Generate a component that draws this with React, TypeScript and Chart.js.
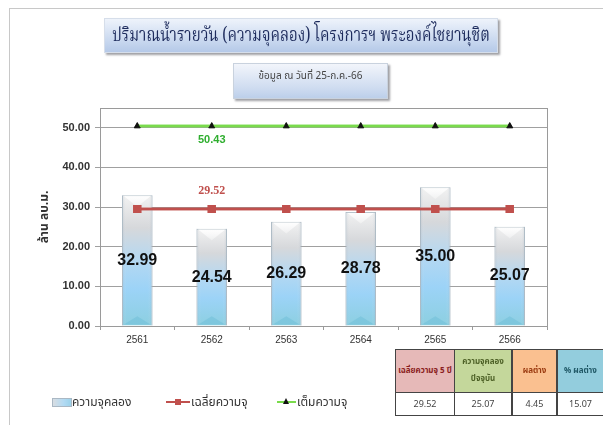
import React, { useEffect, useRef } from "react";
import { Chart, registerables } from "chart.js";

Chart.register(...registerables);

const categories = ["2561", "2562", "2563", "2564", "2565", "2566"];
const capacityValues = [32.99, 24.54, 26.29, 28.78, 35.0, 25.07];
const averageValues = [29.52, 29.52, 29.52, 29.52, 29.52, 29.52];
const fullValues = [50.43, 50.43, 50.43, 50.43, 50.43, 50.43];
const yTickValues = [0, 10, 20, 30, 40, 50];
const seriesNames = ["ความจุคลอง", "เฉลี่ยความจุ", "เต็มความจุ"];
const titleText = "ปริมาณน้ำรายวัน (ความจุคลอง) โครงการฯ พระองค์ไชยานุชิต";
const subtitleText = "ข้อมูล ณ วันที่  25-ก.ค.-66";
const yAxisTitle = "ล้าน ลบ.ม.";
const tableHeaders = ["เฉลี่ยความจุ 5 ปี", "ความจุคลอง\nปัจจุบัน", "ผลต่าง", "% ผลต่าง"];
const tableValues = ["29.52", "25.07", "4.45", "15.07"];

const THAI_SANS = "Tahoma, 'Noto Sans Thai', Loma, Garuda, 'Noto Sans', 'DejaVu Sans', sans-serif";
const THAI_SERIF = "'Angsana New', 'Noto Serif Thai', Norasi, Kinnari, 'Liberation Serif', serif";

const RED = "#C0504D";
const GREEN = "#7ADB4C";

const decorPlugin = {
  id: "decor",
  afterDatasetsDraw(chart: any) {
    const ctx = chart.ctx as CanvasRenderingContext2D;
    const area = chart.chartArea;
    const barMeta = chart.getDatasetMeta(0);
    barMeta.data.forEach((bar: any) => {
      const w = bar.width;
      const left = bar.x - w / 2;
      const right = bar.x + w / 2;
      const top = bar.y;
      const bottom = bar.base;
      ctx.save();
      const hg = ctx.createLinearGradient(left, 0, right, 0);
      hg.addColorStop(0, "rgba(120,140,160,0.22)");
      hg.addColorStop(0.15, "rgba(255,255,255,0.0)");
      hg.addColorStop(0.85, "rgba(255,255,255,0.0)");
      hg.addColorStop(1, "rgba(120,140,160,0.22)");
      ctx.fillStyle = hg;
      ctx.fillRect(left, top, w, bottom - top);
      const tg = ctx.createLinearGradient(0, top, 0, top + w * 0.4);
      tg.addColorStop(0, "rgba(255,255,255,0.95)");
      tg.addColorStop(1, "rgba(255,255,255,0.3)");
      ctx.beginPath();
      ctx.moveTo(left + 2, top + 1);
      ctx.lineTo(right - 2, top + 1);
      ctx.lineTo(bar.x, top + w * 0.38);
      ctx.closePath();
      ctx.fillStyle = tg;
      ctx.fill();
      ctx.beginPath();
      ctx.moveTo(left + 2, bottom - 1);
      ctx.lineTo(right - 2, bottom - 1);
      ctx.lineTo(bar.x, bottom - w * 0.3);
      ctx.closePath();
      ctx.fillStyle = "rgba(110,190,215,0.5)";
      ctx.fill();
      ctx.restore();
    });
    [1, 2].forEach((di) => {
      const meta = chart.getDatasetMeta(di);
      if (meta.dataset) meta.dataset.draw(ctx, area);
      meta.data.forEach((p: any) => p.draw(ctx, area));
    });
    ctx.save();
    ctx.textAlign = "center";
    ctx.textBaseline = "middle";
    ctx.font = "bold 16px 'Liberation Sans', Arial, sans-serif";
    ctx.fillStyle = "#111";
    barMeta.data.forEach((bar: any, i: number) => {
      ctx.fillText(capacityValues[i].toFixed(2), bar.x, (bar.y + bar.base) / 2);
    });
    const avgPt = chart.getDatasetMeta(1).data[1];
    ctx.font = "bold 12px 'Liberation Serif', serif";
    ctx.fillStyle = RED;
    ctx.fillText(averageValues[1].toFixed(2), avgPt.x, avgPt.y - 18);
    const fullPt = chart.getDatasetMeta(2).data[1];
    ctx.font = "bold 11px 'Liberation Sans', Arial, sans-serif";
    ctx.fillStyle = "#2FAE2F";
    ctx.fillText(fullValues[1].toFixed(2), fullPt.x, fullPt.y + 14);
    ctx.restore();
  },
  afterDraw(chart: any) {
    const ctx = chart.ctx as CanvasRenderingContext2D;
    const a = chart.chartArea;
    ctx.save();
    ctx.strokeStyle = "#9a9a9a";
    ctx.lineWidth = 1;
    ctx.strokeRect(Math.round(a.left) + 0.5, Math.round(a.top) + 0.5, Math.round(a.right - a.left), Math.round(a.bottom - a.top));
    ctx.restore();
  },
};

function barGradient(c: any) {
  const chart = c.chart;
  if (!chart.chartArea || c.type !== "data" || !chart.scales.y) return "#a9d8f0";
  const ys = chart.scales.y;
  const v = capacityValues[c.dataIndex];
  const top = ys.getPixelForValue(v);
  const bottom = ys.getPixelForValue(0);
  const g = chart.ctx.createLinearGradient(0, top, 0, bottom);
  g.addColorStop(0, "#f2f2f2");
  g.addColorStop(0.25, "#d6d8db");
  g.addColorStop(0.5, "#b4d8f2");
  g.addColorStop(0.72, "#9cd3f7");
  g.addColorStop(1, "#8ccfe0");
  return g;
}

function ChartCanvas() {
  const ref = useRef<HTMLCanvasElement | null>(null);
  useEffect(() => {
    if (!ref.current) return;
    const chart = new Chart(ref.current, {
      type: "bar",
      data: {
        labels: categories,
        datasets: [
          {
            type: "bar",
            label: seriesNames[0],
            data: capacityValues,
            backgroundColor: barGradient as any,
            borderColor: "#b8c4cc",
            borderWidth: 1,
            barPercentage: 0.82,
            categoryPercentage: 0.5,
            order: 3,
          },
          {
            type: "line",
            label: seriesNames[1],
            data: averageValues,
            borderColor: RED,
            backgroundColor: RED,
            borderWidth: 2.5,
            pointStyle: "rect",
            pointRadius: 4,
            pointBackgroundColor: RED,
            pointBorderColor: RED,
            order: 2,
          },
          {
            type: "line",
            label: seriesNames[2],
            data: fullValues,
            borderColor: GREEN,
            backgroundColor: GREEN,
            borderWidth: 2.5,
            pointStyle: "triangle",
            pointRadius: 3.5,
            pointBackgroundColor: "#111",
            pointBorderColor: "#111",
            pointBorderWidth: 0.5,
            order: 1,
          },
        ],
      },
      options: {
        responsive: false,
        animation: false,
        layout: { padding: { left: 34, right: 56, top: 108, bottom: 69 } },
        plugins: { legend: { display: false }, tooltip: { enabled: false } },
        scales: {
          x: {
            grid: { drawOnChartArea: false, tickLength: 4, color: "#9a9a9a", offset: true },
            border: { color: "#9a9a9a" },
            ticks: { color: "#333", font: { family: "'Liberation Sans', Arial, sans-serif", size: 10 }, padding: 4 },
            afterFit: (s: any) => { s.height = 30; },
          },
          y: {
            min: 0,
            max: 55,
            ticks: {
              stepSize: 10,
              color: "#333",
              padding: 5,
              font: { family: "'Liberation Sans', Arial, sans-serif", size: 11, weight: "bold" },
              callback: (v: any) => Number(v).toFixed(2),
            },
            afterBuildTicks: (s: any) => {
              s.ticks = yTickValues.map((v) => ({ value: v }));
            },
            grid: { color: "#a0a0a0", tickLength: 5 },
            border: { color: "#9a9a9a" },
            title: {
              display: true,
              text: yAxisTitle,
              color: "#333",
              font: { family: THAI_SANS, size: 12, weight: "bold" },
              padding: { top: 4, bottom: 0 },
            },
            afterFit: (s: any) => { s.width = 66; },
          },
        },
      },
      plugins: [decorPlugin],
    } as any);
    return () => chart.destroy();
  }, []);
  return <canvas ref={ref} width={603} height={425} style={{ position: "absolute", left: 0, top: 0, width: 603, height: 425 }} />;
}

const headerStyles = [
  { bg: "#E6B9B8", color: "#8B1E1E" },
  { bg: "#C4D79B", color: "#4F6228" },
  { bg: "#FAC090", color: "#9B3A10" },
  { bg: "#93CDDD", color: "#215967" },
];
const colLefts = [395, 455, 513, 558, 605];

const legendText: React.CSSProperties = {
  position: "absolute", top: 393, height: 18, lineHeight: "18px",
  fontFamily: THAI_SANS, fontSize: 12, color: "#333", whiteSpace: "nowrap",
};

export default function App() {
  return (
    <div style={{ position: "absolute", left: 0, top: 0, width: 603, height: 425, background: "#fff", overflow: "hidden" }}>
      <div style={{ position: "absolute", left: 9, top: 8, width: 700, height: 500, borderLeft: "1px solid #c8c8c8", borderTop: "1px solid #c8c8c8" }} />
      <ChartCanvas />
      <div
        style={{
          position: "absolute", left: 104, top: 18, width: 394, height: 35,
          background: "linear-gradient(#eef3fb, #c6d6ee 70%, #b5c9e8)",
          boxShadow: "2px 2px 2px rgba(80,80,90,0.55)",
          border: "1px solid #d6deea", boxSizing: "border-box",
          display: "flex", alignItems: "center", justifyContent: "center",
          fontFamily: THAI_SERIF, fontSize: 19, color: "#1d2b5c", whiteSpace: "nowrap", overflow: "visible",
        }}
      >
        <span style={{ display: "inline-block", transform: "scaleX(0.79)", transformOrigin: "center" }}>{titleText}</span>
      </div>
      <div
        style={{
          position: "absolute", left: 233, top: 63, width: 155, height: 36,
          background: "linear-gradient(#f2f5fb, #cfdcf0 70%, #bccfea)",
          boxShadow: "2px 2px 2px rgba(80,80,90,0.55)",
          border: "1px solid #c9d2de", boxSizing: "border-box",
          fontFamily: THAI_SANS, fontSize: 10, color: "#444", whiteSpace: "nowrap",
          paddingTop: 4, textAlign: "center",
        }}
      >
        {subtitleText}
      </div>
      {/* legend */}
      <span style={{ position: "absolute", left: 52, top: 398, width: 18, height: 7, background: "linear-gradient(90deg, #d8dde2, #b2daf3 60%, #9bd2ea)", border: "1px solid #aab8c4" }} />
      <span style={{ ...legendText, left: 72 }}>{seriesNames[0]}</span>
      <span style={{ position: "absolute", left: 166, top: 401, width: 24, height: 2, background: RED }} />
      <span style={{ position: "absolute", left: 175, top: 399, width: 6, height: 6, background: RED }} />
      <span style={{ ...legendText, left: 191 }}>{seriesNames[1]}</span>
      <span style={{ position: "absolute", left: 277, top: 401, width: 19, height: 2, background: GREEN }} />
      <span style={{ position: "absolute", left: 283, top: 398, width: 0, height: 0, borderLeft: "3px solid transparent", borderRight: "3px solid transparent", borderBottom: "6px solid #111" }} />
      <span style={{ ...legendText, left: 297 }}>{seriesNames[2]}</span>
      {/* table */}
      {tableHeaders.map((h, i) => (
        <div
          key={"h" + i}
          style={{
            position: "absolute", left: colLefts[i], top: 349, width: colLefts[i + 1] - colLefts[i], height: 44,
            background: headerStyles[i].bg, color: headerStyles[i].color, border: "1px solid #444", boxSizing: "border-box",
            marginLeft: i > 0 ? -1 : 0,
            display: "flex", alignItems: "center", justifyContent: "center", textAlign: "center",
            fontFamily: THAI_SANS, fontSize: 8, fontWeight: "bold", whiteSpace: "pre-line", lineHeight: "17px",
          }}
        >
          {h}
        </div>
      ))}
      {tableValues.map((v, i) => (
        <div
          key={"v" + i}
          style={{
            position: "absolute", left: colLefts[i], top: 392, width: colLefts[i + 1] - colLefts[i], height: 24,
            background: "#fff", color: "#444", border: "1px solid #444", boxSizing: "border-box",
            marginLeft: i > 0 ? -1 : 0,
            display: "flex", alignItems: "center", justifyContent: "center",
            fontFamily: THAI_SANS, fontSize: 9,
          }}
        >
          {v}
        </div>
      ))}
    </div>
  );
}
